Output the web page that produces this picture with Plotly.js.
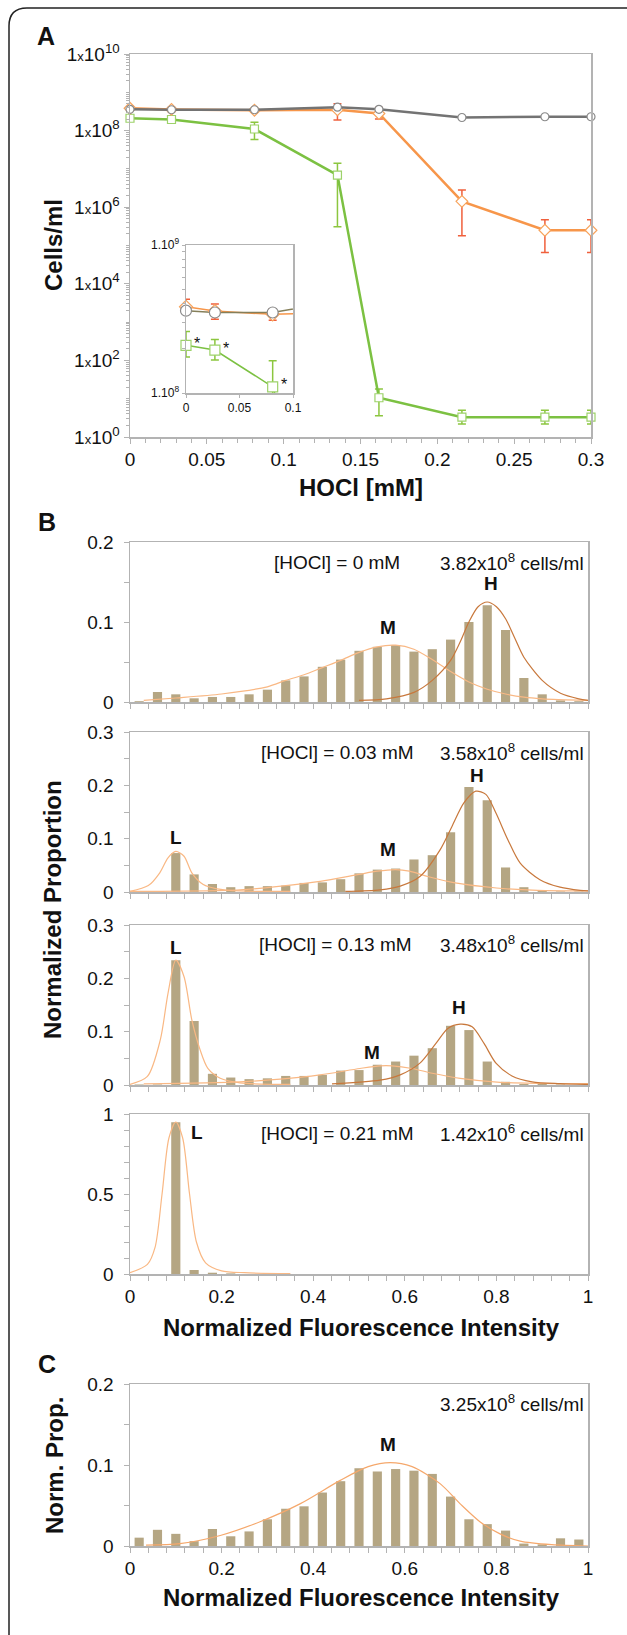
<!DOCTYPE html>
<html><head><meta charset="utf-8">
<script src="https://cdn.plot.ly/plotly-3.0.1.min.js"></script>
<style>html,body{margin:0;padding:0;background:#fff}#chart{width:627px;height:1635px}</style>
</head><body><div id="chart"></div>
<script>
// ---------- Panel A data ----------
const hoclX   = [0, 0.027, 0.081, 0.135, 0.162, 0.216, 0.27, 0.3];
const grayY   = [3.6e8, 3.5e8, 3.5e8, 4.1e8, 3.6e8, 2.2e8, 2.3e8, 2.3e8];
const orangeY = [3.82e8, 3.58e8, 3.4e8, 3.48e8, 2.8e8, 1.42e6, 2.5e5, 2.5e5];
const orangeHi= [4.3e8, 4.0e8, 3.7e8, 5.0e8, 4.0e8, 2.8e6, 4.7e5, 4.7e5];
const orangeLo= [3.4e8, 3.15e8, 3.1e8, 1.9e8, 2.0e8, 1.8e5, 6.6e4, 6.6e4];
const greenY  = [2.1e8, 1.95e8, 1.1e8, 6.9e6, 10.6, 3.3, 3.3, 3.3];
const greenHi = [2.6e8, 2.3e8, 1.65e8, 1.4e7, 18, 5, 5, 5];
const greenLo = [1.75e8, 1.67e8, 5.9e7, 3.1e5, 3.6, 2.2, 2.2, 2.2];
const aXTicks = [0, 0.05, 0.1, 0.15, 0.2, 0.25, 0.3];
const aXText  = ['0', '0.05', '0.1', '0.15', '0.2', '0.25', '0.3'];
const aYTicks = [1, 1e2, 1e4, 1e6, 1e8, 1e10];
const aYExp   = ['0', '2', '4', '6', '8', '10'];
const insetXTicks = [0, 0.05, 0.1];
const insetXText  = ['0', '0.05', '0.1'];
const insetYTicks = [1e8, 1e9];
const insetYExp   = ['8', '9'];

// ---------- Histogram data (bin centres) ----------
const binX = [0.02,0.06,0.10,0.14,0.18,0.22,0.26,0.30,0.34,0.38,0.42,0.46,0.50,0.54,0.58,0.62,0.66,0.70,0.74,0.78,0.82,0.86,0.90,0.94,0.98];
const b1Bars = [0.001,0.0125,0.0096,0.0046,0.0063,0.0063,0.0096,0.0154,0.027,0.032,0.044,0.053,0.064,0.069,0.071,0.063,0.066,0.078,0.100,0.121,0.090,0.030,0.0096,0.002,0.001];
const b2Bars = [0,0,0.073,0.033,0.015,0.009,0.011,0.011,0.012,0.017,0.018,0.024,0.035,0.042,0.044,0.061,0.069,0.112,0.197,0.172,0.046,0.009,0.002,0.001,0.001];
const b3Bars = [0.001,0.001,0.234,0.120,0.021,0.014,0.011,0.0125,0.017,0.017,0.019,0.027,0.028,0.038,0.044,0.055,0.069,0.111,0.103,0.044,0.006,0.002,0.002,0.001,0];
const b4Bars = [0,0,0.948,0.025,0.008,0.004,0,0.002,0.002,0,0,0,0,0,0,0,0,0,0,0,0,0,0,0,0];
const cBars  = [0.0103,0.020,0.015,0.006,0.021,0.012,0.018,0.033,0.046,0.049,0.066,0.080,0.096,0.092,0.095,0.093,0.089,0.061,0.033,0.027,0.019,0.003,0.002,0.0095,0.008];

// ---------- Fitted curves ----------
const b1MX = [0.03,0.10,0.20,0.30,0.34,0.38,0.42,0.46,0.50,0.54,0.58,0.62,0.66,0.70,0.74,0.78,0.82,0.86,0.90,1.00];
const b1MY = [0.002,0.005,0.010,0.019,0.027,0.034,0.043,0.052,0.062,0.069,0.071,0.066,0.053,0.038,0.025,0.016,0.010,0.006,0.004,0.002];
const b1HX = [0.50,0.56,0.62,0.66,0.70,0.72,0.74,0.76,0.78,0.80,0.82,0.84,0.86,0.90,0.94,0.98,1.00];
const b1HY = [0.002,0.004,0.012,0.027,0.052,0.074,0.100,0.119,0.125,0.119,0.104,0.080,0.056,0.027,0.011,0.004,0.002];

const b2LX = [0.00,0.04,0.065,0.083,0.10,0.118,0.135,0.16,0.19,0.24,0.35];
const b2LY = [0.001,0.012,0.036,0.064,0.076,0.067,0.036,0.014,0.006,0.002,0.001];
const b2MX = [0.00,0.24,0.33,0.415,0.50,0.54,0.58,0.61,0.65,0.71,0.80,0.89,1.00];
const b2MY = [0.001,0.004,0.011,0.020,0.033,0.039,0.042,0.039,0.029,0.017,0.0075,0.003,0.002];
const b2HX = [0.47,0.546,0.59,0.633,0.677,0.703,0.729,0.755,0.777,0.799,0.825,0.852,0.895,0.939,0.983,1.00];
const b2HY = [0.001,0.004,0.011,0.029,0.079,0.123,0.167,0.189,0.183,0.148,0.098,0.054,0.023,0.009,0.003,0.002];

const b3LX = [0.00,0.038,0.066,0.083,0.10,0.118,0.135,0.153,0.17,0.197,0.24,0.35];
const b3LY = [0.001,0.016,0.084,0.172,0.234,0.203,0.122,0.066,0.031,0.0125,0.004,0.001];
const b3MX = [0.03,0.24,0.328,0.415,0.502,0.546,0.572,0.616,0.66,0.721,0.808,0.895,1.00];
const b3MY = [0.002,0.006,0.011,0.019,0.031,0.036,0.036,0.031,0.022,0.0125,0.005,0.003,0.0025];
const b3HX = [0.441,0.546,0.59,0.633,0.668,0.694,0.721,0.747,0.773,0.799,0.834,0.878,0.939,1.00];
const b3HY = [0.002,0.009,0.019,0.041,0.078,0.106,0.114,0.109,0.078,0.041,0.017,0.006,0.0025,0.001];

const b4LX = [0.00,0.038,0.055,0.07,0.085,0.10,0.115,0.13,0.145,0.165,0.20,0.25,0.35];
const b4LY = [0.008,0.06,0.17,0.5,0.85,0.95,0.85,0.5,0.2,0.07,0.02,0.008,0.003];

const cMX = [0.035,0.109,0.197,0.284,0.371,0.459,0.52,0.568,0.616,0.677,0.721,0.764,0.808,0.852,0.921,1.00];
const cMY = [0.001,0.003,0.013,0.030,0.052,0.081,0.098,0.103,0.098,0.077,0.052,0.030,0.015,0.006,0.0016,0.0];

// ---------- helpers / styles ----------
const FONT = 'Liberation Sans, Arial, Helvetica, sans-serif';
const W = 627, H = 1635;
const px = v => v / W;
const py = v => 1 - v / H;
const LINE = '#b3b3b3';
const BAR = '#b5a683';
const LIGHT = '#f9b884';
const DARK = '#c8783c';
const TXT = '#111';

const plus  = (hi, y) => hi.map((h, i) => h - y[i]);
const minus = (lo, y) => lo.map((l, i) => y[i] - l);

function axis(extra) {
  return Object.assign({
    showline: true, linecolor: LINE, linewidth: 1.5, mirror: true,
    showgrid: false, zeroline: false, ticks: 'outside', ticklen: 5,
    tickwidth: 1, tickcolor: LINE, fixedrange: true,
    tickfont: {family: FONT, size: 19, color: TXT}
  }, extra);
}
const minorLog = [];
for (let e = 0; e < 10; e++) for (let k = 2; k <= 9; k++) minorLog.push(k * Math.pow(10, e));
for (let e = 1; e < 10; e += 2) minorLog.push(Math.pow(10, e));
const minorInset = [];
for (let k = 2; k <= 9; k++) minorInset.push(k * 1e8);

const traces = [];
// Panel A main
traces.push({x: hoclX, y: greenY, type: 'scatter', mode: 'lines+markers', xaxis: 'x', yaxis: 'y', cliponaxis: false,
  line: {color: '#7cc142', width: 2.5},
  marker: {symbol: 'square', size: 8, color: '#fff', line: {color: '#9dd26a', width: 1.2}},
  error_y: {type: 'data', symmetric: false, array: plus(greenHi, greenY), arrayminus: minus(greenLo, greenY), color: '#8cc63f', thickness: 1.5, width: 4}});
traces.push({x: hoclX, y: orangeY, type: 'scatter', mode: 'lines+markers', xaxis: 'x', yaxis: 'y', cliponaxis: false,
  line: {color: '#f7964a', width: 2.5},
  marker: {symbol: 'diamond', size: 9, color: '#fff', line: {color: '#f7a35c', width: 1.2}},
  error_y: {type: 'data', symmetric: false, array: plus(orangeHi, orangeY), arrayminus: minus(orangeLo, orangeY), color: '#f0603c', thickness: 1.5, width: 4}});
traces.push({x: hoclX, y: grayY, type: 'scatter', mode: 'lines+markers', xaxis: 'x', yaxis: 'y', cliponaxis: false,
  line: {color: '#737373', width: 2.5},
  marker: {symbol: 'circle', size: 8, color: '#fff', line: {color: '#8a8a8a', width: 1.2}}});

// Inset: lines (clipped) with error bars, then markers of the first three points
traces.push({x: hoclX, y: greenY, type: 'scatter', mode: 'lines', xaxis: 'x2', yaxis: 'y2',
  line: {color: '#7cc142', width: 1.5},
  error_y: {type: 'data', symmetric: false, array: plus(greenHi, greenY), arrayminus: minus(greenLo, greenY), color: '#8cc63f', thickness: 1.5, width: 4}});
traces.push({x: hoclX, y: orangeY, type: 'scatter', mode: 'lines', xaxis: 'x2', yaxis: 'y2',
  line: {color: '#f7964a', width: 1.5},
  error_y: {type: 'data', symmetric: false, array: plus(orangeHi, orangeY), arrayminus: minus(orangeLo, orangeY), color: '#f0603c', thickness: 1.5, width: 4}});
traces.push({x: hoclX, y: grayY, type: 'scatter', mode: 'lines', xaxis: 'x2', yaxis: 'y2',
  line: {color: '#857f5a', width: 1.5}});
traces.push({x: hoclX.slice(0, 3), y: greenY.slice(0, 3), type: 'scatter', mode: 'markers', xaxis: 'x2', yaxis: 'y2', cliponaxis: false,
  marker: {symbol: 'square', size: 10, color: '#fff', line: {color: '#9dd26a', width: 1.2}}});
traces.push({x: hoclX.slice(0, 3), y: orangeY.slice(0, 3), type: 'scatter', mode: 'markers', xaxis: 'x2', yaxis: 'y2', cliponaxis: false,
  marker: {symbol: 'diamond', size: 10, color: '#fff', line: {color: '#f7a35c', width: 1.2}}});
traces.push({x: hoclX.slice(0, 3), y: grayY.slice(0, 3), type: 'scatter', mode: 'markers', xaxis: 'x2', yaxis: 'y2', cliponaxis: false,
  marker: {symbol: 'circle', size: 11, color: '#fff', line: {color: '#8a8a8a', width: 1.2}}});

// Histograms
function bars(y, n) { return {x: binX, y: y, type: 'bar', width: 0.02, marker: {color: BAR}, xaxis: 'x' + n, yaxis: 'y' + n}; }
function curve(x, y, c, n) { return {x: x, y: y, type: 'scatter', mode: 'lines', line: {color: c, width: 1.2, shape: 'spline', smoothing: 0.8}, xaxis: 'x' + n, yaxis: 'y' + n}; }
traces.push(bars(b1Bars, 3), curve(b1MX, b1MY, LIGHT, 3), curve(b1HX, b1HY, DARK, 3));
traces.push(bars(b2Bars, 4), curve(b2LX, b2LY, LIGHT, 4), curve(b2MX, b2MY, LIGHT, 4), curve(b2HX, b2HY, DARK, 4));
traces.push(bars(b3Bars, 5), curve(b3LX, b3LY, LIGHT, 5), curve(b3MX, b3MY, LIGHT, 5), curve(b3HX, b3HY, DARK, 5));
traces.push(bars(b4Bars, 6), curve(b4LX, b4LY, LIGHT, 6));
traces.push(bars(cBars, 7), curve(cMX, cMY, '#f5a86c', 7));

const xL = 130, xR = 588;
function histX(n, labels) {
  return axis({domain: [px(xL), px(xR)], range: [0, 1], anchor: 'y' + n, dtick: 0.2, tick0: 0,
    showticklabels: labels, minor: {dtick: 0.04, tick0: 0, ticks: 'outside', ticklen: 5, tickcolor: LINE}});
}
function histY(n, top, bot, rmax, dt, mdt) {
  return axis({domain: [py(bot), py(top)], range: [0, rmax], anchor: 'x' + n, dtick: dt, tick0: 0,
    ticklabelstandoff: 6, minor: {dtick: mdt, tick0: 0, ticks: 'outside', ticklen: 5, tickcolor: LINE}});
}

function ann(x, y, text, o) {
  return Object.assign({xref: 'paper', yref: 'paper', x: px(x), y: py(y), text: text, showarrow: false,
    xanchor: 'center', yanchor: 'middle', font: {family: FONT, size: 19, color: TXT}}, o || {});
}
const bf = size => ({font: {family: FONT, size: size, color: TXT, weight: 'bold'}});
const annotations = [
  ann(46, 36, 'A', bf(25)),
  ann(47, 522, 'B', bf(25)),
  ann(47, 1364, 'C', bf(25)),
  ann(53, 245, 'Cells/ml', Object.assign({textangle: -90}, bf(24))),
  ann(361, 488, 'HOCl [mM]', bf(24)),
  ann(53, 910, 'Normalized Proportion', Object.assign({textangle: -90}, bf(24))),
  ann(361, 1327, 'Normalized Fluorescence Intensity', bf(24)),
  ann(361, 1597, 'Normalized Fluorescence Intensity', bf(24)),
  ann(54, 1466, 'Norm. Prop.', Object.assign({textangle: -90}, bf(24))),
  ann(337, 562, '[HOCl] = 0 mM'),
  ann(586, 562, '3.82x10<sup>8</sup> cells/ml', {xanchor: 'right'}),
  ann(337, 752, '[HOCl] = 0.03 mM'),
  ann(586, 752, '3.58x10<sup>8</sup> cells/ml', {xanchor: 'right'}),
  ann(335, 944, '[HOCl] = 0.13 mM'),
  ann(586, 944, '3.48x10<sup>8</sup> cells/ml', {xanchor: 'right'}),
  ann(337, 1133, '[HOCl] = 0.21 mM'),
  ann(586, 1133, '1.42x10<sup>6</sup> cells/ml', {xanchor: 'right'}),
  ann(586, 1403, '3.25x10<sup>8</sup> cells/ml', {xanchor: 'right'}),
  ann(491, 583, 'H', bf(19)), ann(388, 627, 'M', bf(19)),
  ann(477, 775, 'H', bf(19)), ann(388, 849, 'M', bf(19)), ann(176, 837, 'L', bf(19)),
  ann(176, 947, 'L', bf(19)), ann(459, 1007, 'H', bf(19)), ann(372, 1052, 'M', bf(19)),
  ann(197, 1132, 'L', bf(19)),
  ann(388, 1444, 'M', bf(19))
];
for (let i = 0; i < 3; i++) {
  annotations.push({xref: 'x2', yref: 'y2', x: hoclX[i], y: Math.log10(greenY[i]), text: '*', showarrow: false,
    xanchor: 'center', yanchor: 'middle', xshift: 11, yshift: 2, font: {family: FONT, size: 16, color: TXT}});
}

const r = 18;
const framePath = 'M ' + px(9) + ' ' + py(1650) + ' L ' + px(9) + ' ' + py(8 + r) +
  ' Q ' + px(9) + ' ' + py(8) + ' ' + px(9 + r) + ' ' + py(8) + ' L ' + px(650) + ' ' + py(8);

const layout = {
  width: W, height: H, margin: {l: 0, r: 0, t: 0, b: 0},
  paper_bgcolor: '#fff', plot_bgcolor: '#fff', showlegend: false,
  font: {family: FONT, color: TXT},
  xaxis: axis({domain: [px(130), px(591)], range: [0, 0.3], anchor: 'y', tickmode: 'array', tickvals: aXTicks, ticktext: aXText,
    minor: {dtick: 0.01, tick0: 0, ticks: 'outside', ticklen: 4, tickcolor: LINE}}),
  yaxis: axis({type: 'log', domain: [py(437), py(54)], range: [0, 10], anchor: 'x', tickmode: 'array', tickvals: aYTicks,
    ticktext: aYExp.map(e => '1<span style="font-size:13px">x</span>10<sup>' + e + '</sup>'),
    minor: {tickmode: 'array', tickvals: minorLog, ticks: 'outside', ticklen: 3, tickcolor: LINE}}),
  xaxis2: axis({domain: [px(186), px(293)], range: [0, 0.1], anchor: 'y2', tickmode: 'array', tickvals: insetXTicks, ticktext: insetXText,
    ticklen: 3, tickfont: {family: FONT, size: 12, color: TXT}}),
  yaxis2: axis({type: 'log', domain: [py(393), py(245)], range: [8, 9], anchor: 'x2', tickmode: 'array', tickvals: insetYTicks,
    ticktext: insetYExp.map(e => '1.10<sup>' + e + '</sup>'), ticklen: 3, tickfont: {family: FONT, size: 12, color: TXT},
    minor: {tickmode: 'array', tickvals: minorInset, ticks: 'outside', ticklen: 3, tickcolor: LINE}}),
  xaxis3: histX(3, false), yaxis3: histY(3, 542, 702, 0.2, 0.1, 0.05),
  xaxis4: histX(4, false), yaxis4: histY(4, 732, 892, 0.3, 0.1, 0.05),
  xaxis5: histX(5, false), yaxis5: histY(5, 925, 1085, 0.3, 0.1, 0.05),
  xaxis6: histX(6, true),  yaxis6: histY(6, 1114, 1274, 1, 0.5, 0.1),
  xaxis7: histX(7, true),  yaxis7: histY(7, 1384, 1546, 0.2, 0.1, 0.05),
  annotations: annotations,
  shapes: [{type: 'path', xref: 'paper', yref: 'paper', path: framePath, line: {color: '#222', width: 1.5}}]
};

Plotly.newPlot('chart', traces, layout, {staticPlot: true, displayModeBar: false});
</script></body></html>
